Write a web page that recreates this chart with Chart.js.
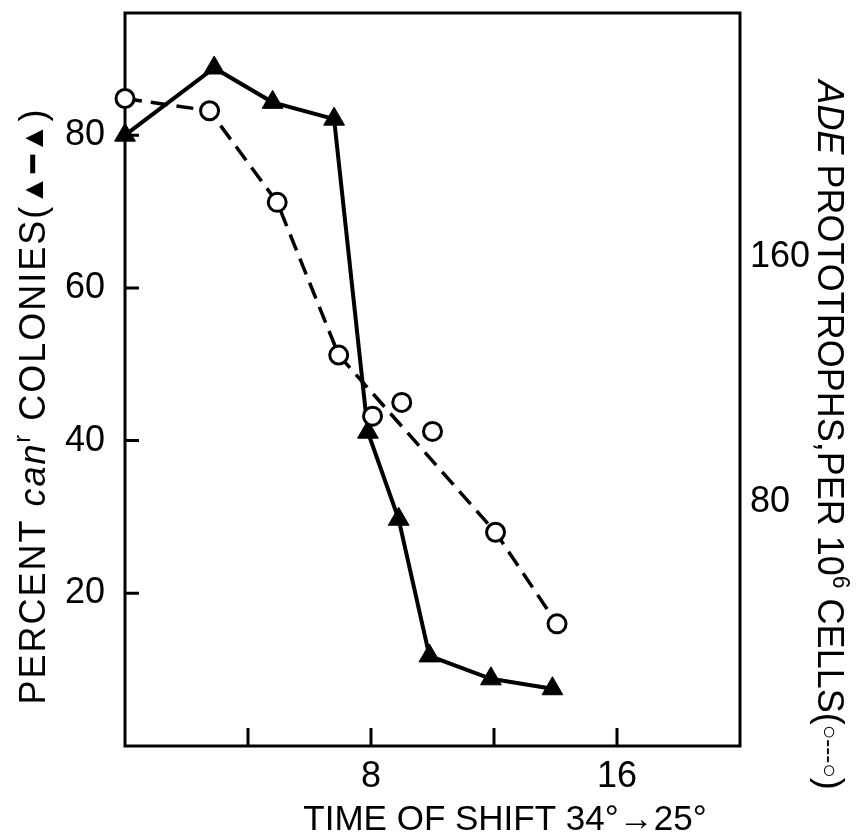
<!DOCTYPE html>
<html>
<head>
<meta charset="utf-8">
<script src="https://cdn.jsdelivr.net/npm/chart.js@4"></script>
<style>
  html, body { margin: 0; padding: 0; background: #fff; }
  #wrap { width: 864px; height: 835px; }
</style>
</head>
<body>
<div id="wrap"><canvas id="shiftChart"></canvas></div>
<script>
// values (x = time of shift)
const timeCan = [0, 2.9, 4.8, 6.8, 7.9, 8.9, 9.9, 11.9, 13.9];
const percentCan = [80, 88.8, 84.3, 82.1, 41.1, 29.7, 11.8, 8.8, 7.5];
const timeAde = [0, 2.75, 4.95, 6.95, 8.05, 9.0, 10.0, 12.05, 14.05];
const adeProto = [212, 208, 178, 128, 108, 112.5, 103, 70, 40];
// circles that the dashed curve goes through
const adeCurveIdx = [0, 1, 2, 3, 7, 8];

const xTicks = [4, 8, 12, 16];
const xLabels = [8, 16];
const leftTicks = [20, 40, 60, 80];
const rightTicks = [80, 160];

const FONT = '"Liberation Sans", Arial, sans-serif';

function drawRich(ctx, segs, cx, cy, angle, spacing) {
  ctx.save();
  ctx.translate(cx, cy);
  ctx.rotate(angle);
  ctx.textBaseline = "alphabetic";
  ctx.textAlign = "left";
  ctx.fillStyle = "#000";
  ctx.letterSpacing = (spacing || 0) + "px";
  let w = 0;
  segs.forEach(s => {
    ctx.font = s.font;
    w += ctx.measureText(s.text).width;
  });
  let x = -w / 2;
  segs.forEach(s => {
    ctx.font = s.font;
    ctx.fillText(s.text, x, 13 + (s.dy || 0));
    x += ctx.measureText(s.text).width;
  });
  ctx.restore();
}

const framePlugin = {
  id: "frame",
  beforeDatasetsDraw(chart) {
    const ctx = chart.ctx;
    const a = chart.chartArea;
    const sx = chart.scales.x, sy = chart.scales.y;
    ctx.save();
    ctx.strokeStyle = "#000";
    ctx.lineWidth = 3;
    ctx.strokeRect(a.left, a.top, a.right - a.left, a.bottom - a.top);
    ctx.beginPath();
    xTicks.forEach(v => {
      const px = sx.getPixelForValue(v);
      ctx.moveTo(px, a.bottom);
      ctx.lineTo(px, a.bottom - 18);
    });
    leftTicks.forEach(v => {
      const py = sy.getPixelForValue(v);
      ctx.moveTo(a.left, py);
      ctx.lineTo(a.left + 14, py);
    });
    ctx.stroke();
    ctx.restore();
  },
  afterDraw(chart) {
    const ctx = chart.ctx;
    const big = "36px " + FONT;
    const ital = "italic 36px " + FONT;
    const sup = "23px " + FONT;
    // x title
    drawRich(ctx, [{ text: "TIME OF SHIFT 34°→25°", font: "35px " + FONT }], 505, 817, 0, 0);
    // left title
    drawRich(ctx, [
      { text: "PERCENT ", font: big },
      { text: "can", font: ital },
      { text: "r", font: sup, dy: -15 },
      { text: " COLONIES(", font: big },
      { text: "▲━▲", font: "30px " + FONT, dy: -2 },
      { text: ")", font: big }
    ], 32, 406, -Math.PI / 2, 2);
    // right title
    drawRich(ctx, [
      { text: "ADE", font: ital },
      { text: " PROTOTROPHS,PER 10", font: big },
      { text: "6", font: sup, dy: -15 },
      { text: " CELLS(", font: big },
      { text: "○---○", font: "24px " + FONT, dy: -4 },
      { text: ")", font: big }
    ], 831, 435, Math.PI / 2, 0);
  }
};

function noPad(s) {
  s.paddingTop = 0;
  s.paddingBottom = 0;
  s.paddingLeft = 0;
  s.paddingRight = 0;
}

const ctx = document.getElementById("shiftChart").getContext("2d");
new Chart(ctx, {
  type: "scatter",
  data: {
    datasets: [
      {
        // dashed curve through the ADE points
        type: "line",
        data: adeCurveIdx.map(i => ({ x: timeAde[i], y: adeProto[i] })),
        yAxisID: "y2",
        borderColor: "#000",
        borderWidth: 3.5,
        borderDash: [17, 9],
        pointRadius: 0,
        fill: false,
        clip: false,
        order: 3
      },
      {
        type: "line",
        data: timeCan.map((t, i) => ({ x: t, y: percentCan[i] })),
        yAxisID: "y",
        borderColor: "#000",
        borderWidth: 4,
        pointStyle: "triangle",
        pointRadius: 12,
        pointBackgroundColor: "#000",
        pointBorderColor: "#000",
        pointBorderWidth: 1,
        fill: false,
        clip: false,
        order: 2
      },
      {
        type: "scatter",
        data: timeAde.map((t, i) => ({ x: t, y: adeProto[i] })),
        yAxisID: "y2",
        pointStyle: "circle",
        pointRadius: 9,
        pointBackgroundColor: "#fff",
        pointBorderColor: "#000",
        pointBorderWidth: 3,
        clip: false,
        order: 1
      }
    ]
  },
  options: {
    responsive: true,
    maintainAspectRatio: false,
    animation: false,
    events: [],
    layout: { padding: { top: 8 } },
    plugins: {
      legend: { display: false },
      tooltip: { enabled: false }
    },
    scales: {
      x: {
        type: "linear",
        position: "bottom",
        min: 0,
        max: 20,
        grid: { display: false, drawTicks: false },
        border: { display: false },
        afterBuildTicks: s => { s.ticks = xTicks.map(v => ({ value: v })); },
        afterFit: s => { s.height = 89; noPad(s); },
        ticks: {
          autoSkip: false,
          maxRotation: 0,
          padding: 9,
          color: "#000",
          font: { family: FONT, size: 36 },
          callback: v => (xLabels.includes(v) ? String(v) : "")
        }
      },
      y: {
        position: "left",
        min: 0,
        max: 96,
        grid: { display: false, drawTicks: false },
        border: { display: false },
        afterBuildTicks: s => { s.ticks = leftTicks.map(v => ({ value: v })); },
        afterFit: s => { s.width = 125; noPad(s); },
        ticks: {
          padding: 20,
          color: "#000",
          font: { family: FONT, size: 36 }
        }
      },
      y2: {
        position: "right",
        min: 0,
        max: 240,
        grid: { display: false, drawTicks: false },
        border: { display: false },
        afterBuildTicks: s => { s.ticks = rightTicks.map(v => ({ value: v })); },
        afterFit: s => { s.width = 124; noPad(s); },
        ticks: {
          padding: 10,
          color: "#000",
          font: { family: FONT, size: 36 }
        }
      }
    }
  },
  plugins: [framePlugin]
});
</script>
</body>
</html>
